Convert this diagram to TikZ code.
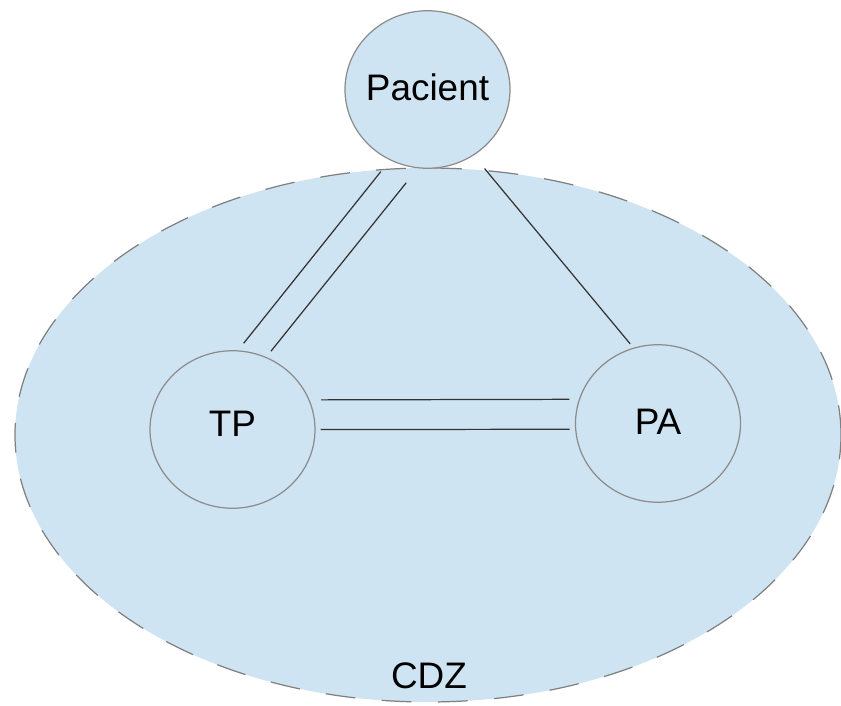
\documentclass[tikz,border=0pt]{standalone}
\usepackage{fontspec}
\setmainfont{Liberation Sans}
\usetikzlibrary{shapes.geometric}
\definecolor{cdzblue}{RGB}{207,228,242}
\begin{document}
\begin{tikzpicture}
        [zone/.style={fill=cdzblue, draw=black!50, line width=.7pt, dash pattern=on 17pt off 15pt},
        actor/.style={ellipse, draw=black!45, fill=cdzblue, line width=.7pt, minimum width=3.3cm, minimum height=3.15cm, inner sep=0pt},
        actorname/.style={font=\fontsize{21}{25}\selectfont},
        link/.style={black!80, line width=.7pt}]

        \clip [use as bounding box] (0,0) rectangle (16.82,14.1);

        \draw [zone] (8.56,5.4) ellipse [x radius=8.26, y radius=5.34];
        \node [actorname] (CDZ) at (8.58,.58) {CDZ};

        \node [actor] (TP) at (4.65,5.51) {};
        \node [actor] (PA) at (13.16,5.63) {};
        \node [actor] (Pacient) at (8.55,12.31) {};
        \node [actorname, yshift=.12cm] (TPname) at (TP) {TP};
        \node [actorname, yshift=.04cm] (PAname) at (PA) {PA};
        \node [actorname, yshift=.04cm] (Pacientname) at (Pacient) {Pacient};

        % double line Pacient - TP
        \draw [link, shorten <=.29cm, shorten >=.18cm] (Pacient.242) -- (TP.86.5);
        \draw [link, shorten <=.37cm, shorten >=.15cm] (Pacient.263) -- (TP.65);

        \draw [link, shorten <=.34cm, shorten >=.1cm] (Pacient.305) -- (PA.108);

        % double line TP - PA
        \draw [link, shorten <=.23cm, shorten >=.19cm] (TP.21.6) -- (PA.163);
        \draw [link, shorten <=.1cm, shorten >=.11cm] (TP.0) -- (PA.184);
    \end{tikzpicture}
\end{document}
